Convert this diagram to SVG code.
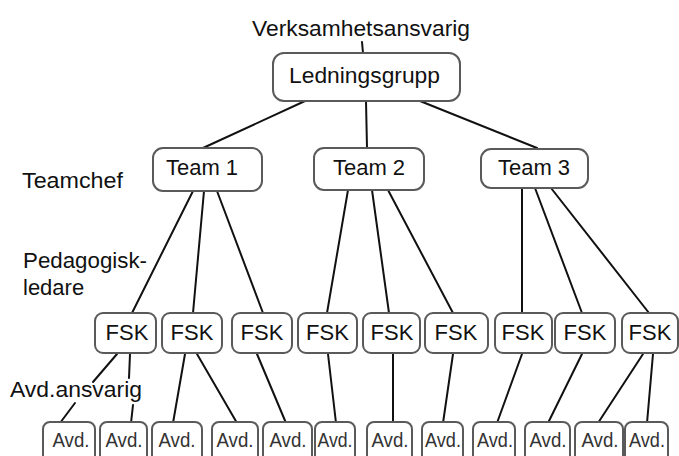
<svg xmlns="http://www.w3.org/2000/svg" width="679" height="456" viewBox="0 0 679 456">
<style>
.bx{fill:#fff;stroke:#5a5a5a;stroke-width:2}
.t{font-family:"Liberation Sans",Arial,sans-serif;font-size:22px;fill:#111}
.c{text-anchor:middle}
.a{font-family:"Liberation Sans",Arial,sans-serif;font-size:21px;fill:#333;text-anchor:middle}
#connectors line{stroke:#111;stroke-width:2;stroke-linecap:round}
</style>
<rect width="679" height="456" fill="#fff"/>
<g id="connectors">
<line x1="362" y1="42" x2="363" y2="53"/>
<line x1="305" y1="101" x2="203" y2="148"/>
<line x1="366" y1="101" x2="367" y2="148"/>
<line x1="420" y1="101" x2="537" y2="148"/>
<line x1="193" y1="191" x2="132" y2="313"/>
<line x1="204" y1="191" x2="193" y2="313"/>
<line x1="217" y1="191" x2="263" y2="313"/>
<line x1="348" y1="190" x2="327" y2="313"/>
<line x1="372" y1="190" x2="389" y2="313"/>
<line x1="388" y1="190" x2="453" y2="313"/>
<line x1="522" y1="188" x2="522" y2="313"/>
<line x1="535" y1="188" x2="582" y2="313"/>
<line x1="551" y1="188" x2="649" y2="313"/>
<line x1="117" y1="354" x2="93" y2="382"/>
<line x1="75" y1="403" x2="60" y2="423"/>
<line x1="130" y1="354" x2="129" y2="378"/>
<line x1="133" y1="405" x2="131" y2="423"/>
<line x1="185" y1="354" x2="173" y2="423"/>
<line x1="197" y1="354" x2="237" y2="423"/>
<line x1="257" y1="354" x2="286" y2="423"/>
<line x1="328" y1="354" x2="336" y2="423"/>
<line x1="393" y1="354" x2="393" y2="423"/>
<line x1="453" y1="354" x2="443" y2="423"/>
<line x1="522" y1="354" x2="497" y2="423"/>
<line x1="582" y1="354" x2="548" y2="423"/>
<line x1="643" y1="354" x2="598" y2="423"/>
<line x1="653" y1="354" x2="647" y2="423"/>
</g>
<g id="labels">
<text class="t" x="252" y="36" textLength="218" lengthAdjust="spacingAndGlyphs">Verksamhetsansvarig</text>
<text class="t" x="22" y="188" textLength="101" lengthAdjust="spacingAndGlyphs">Teamchef</text>
<text class="t" x="23" y="268" textLength="124" lengthAdjust="spacingAndGlyphs">Pedagogisk-</text>
<text class="t" x="23" y="295">ledare</text>
<text class="t" x="10" y="397" textLength="132" lengthAdjust="spacingAndGlyphs">Avd.ansvarig</text>
</g>
<g id="ledningsgrupp"><rect class="bx" x="273" y="53" width="187" height="48" rx="11"/><text class="t" x="289" y="83" textLength="151" lengthAdjust="spacingAndGlyphs">Ledningsgrupp</text></g>
<g id="team1"><rect class="bx" x="153" y="148" width="109" height="43" rx="10"/><text class="t c" x="202" y="175">Team 1</text></g>
<g id="team2"><rect class="bx" x="314" y="148" width="110" height="42" rx="10"/><text class="t c" x="369" y="175">Team 2</text></g>
<g id="team3"><rect class="bx" x="481" y="149" width="107" height="39" rx="10"/><text class="t c" x="534" y="175">Team 3</text></g>
<g id="fsk1"><rect class="bx" x="95" y="313" width="61" height="40" rx="8"/><text class="t c" x="127" y="340">FSK</text></g>
<g id="fsk2"><rect class="bx" x="162" y="313" width="60" height="40" rx="8"/><text class="t c" x="192" y="340">FSK</text></g>
<g id="fsk3"><rect class="bx" x="232" y="313" width="60" height="40" rx="8"/><text class="t c" x="262" y="340">FSK</text></g>
<g id="fsk4"><rect class="bx" x="298" y="313" width="59" height="40" rx="8"/><text class="t c" x="327.5" y="340">FSK</text></g>
<g id="fsk5"><rect class="bx" x="363" y="313" width="57" height="40" rx="8"/><text class="t c" x="392" y="340">FSK</text></g>
<g id="fsk6"><rect class="bx" x="425" y="313" width="63" height="40" rx="8"/><text class="t c" x="456" y="340">FSK</text></g>
<g id="fsk7"><rect class="bx" x="495" y="313" width="57" height="40" rx="8"/><text class="t c" x="523" y="340">FSK</text></g>
<g id="fsk8"><rect class="bx" x="555" y="313" width="60" height="40" rx="8"/><text class="t c" x="585" y="340">FSK</text></g>
<g id="fsk9"><rect class="bx" x="622" y="313" width="56" height="40" rx="8"/><text class="t c" x="650" y="340">FSK</text></g>
<g id="avd1"><rect class="bx" x="43" y="422" width="52" height="40" rx="7"/><text class="a" x="71" y="447" textLength="37" lengthAdjust="spacingAndGlyphs">Avd.</text></g>
<g id="avd2"><rect class="bx" x="100" y="422" width="47" height="40" rx="7"/><text class="a" x="124" y="447" textLength="37" lengthAdjust="spacingAndGlyphs">Avd.</text></g>
<g id="avd3"><rect class="bx" x="152" y="422" width="50" height="40" rx="7"/><text class="a" x="177" y="447" textLength="37" lengthAdjust="spacingAndGlyphs">Avd.</text></g>
<g id="avd4"><rect class="bx" x="212" y="422" width="46" height="40" rx="7"/><text class="a" x="235" y="447" textLength="37" lengthAdjust="spacingAndGlyphs">Avd.</text></g>
<g id="avd5"><rect class="bx" x="263" y="422" width="49" height="40" rx="7"/><text class="a" x="288" y="447" textLength="37" lengthAdjust="spacingAndGlyphs">Avd.</text></g>
<g id="avd6"><rect class="bx" x="315" y="422" width="40" height="40" rx="7"/><text class="a" x="335" y="447" textLength="35" lengthAdjust="spacingAndGlyphs">Avd.</text></g>
<g id="avd7"><rect class="bx" x="367" y="422" width="45" height="40" rx="7"/><text class="a" x="390" y="447" textLength="37" lengthAdjust="spacingAndGlyphs">Avd.</text></g>
<g id="avd8"><rect class="bx" x="422" y="422" width="41" height="40" rx="7"/><text class="a" x="443" y="447" textLength="36" lengthAdjust="spacingAndGlyphs">Avd.</text></g>
<g id="avd9"><rect class="bx" x="473" y="422" width="42" height="40" rx="7"/><text class="a" x="495" y="447" textLength="36" lengthAdjust="spacingAndGlyphs">Avd.</text></g>
<g id="avd10"><rect class="bx" x="525" y="422" width="45" height="40" rx="7"/><text class="a" x="548" y="447" textLength="37" lengthAdjust="spacingAndGlyphs">Avd.</text></g>
<g id="avd11"><rect class="bx" x="575" y="422" width="48" height="40" rx="7"/><text class="a" x="600" y="447" textLength="37" lengthAdjust="spacingAndGlyphs">Avd.</text></g>
<g id="avd12"><rect class="bx" x="625" y="422" width="43" height="40" rx="7"/><text class="a" x="647" y="447" textLength="36" lengthAdjust="spacingAndGlyphs">Avd.</text></g>
</svg>
